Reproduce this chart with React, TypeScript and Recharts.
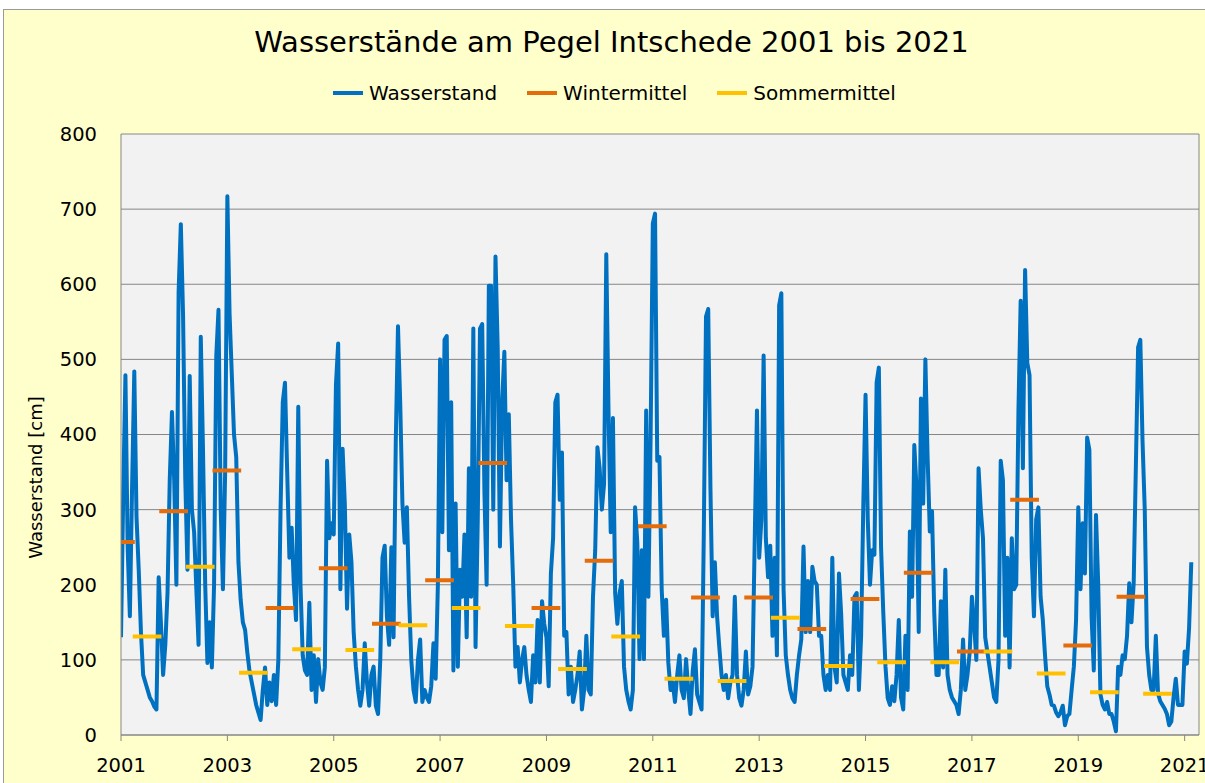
import React from 'react';
import { ComposedChart, Line, XAxis, YAxis, CartesianGrid, Legend, ReferenceLine } from 'recharts';

// Wasserstand [cm], semi-monthly readings (24 per year)
const y2001 = [130, 320, 479, 250, 158, 330, 484, 290, 220, 137, 80, 70, 60, 50, 45, 38, 34, 210, 150, 80, 120, 190, 340, 430];
const y2002 = [340, 200, 590, 680, 560, 341, 220, 478, 300, 270, 194, 120, 530, 380, 200, 96, 150, 90, 200, 505, 566, 300, 194, 350];
const y2003 = [717, 560, 480, 400, 370, 230, 180, 150, 140, 110, 85, 70, 55, 40, 30, 20, 60, 90, 40, 70, 45, 80, 40, 100];
const y2004 = [300, 443, 469, 350, 236, 276, 200, 153, 437, 200, 106, 86, 80, 176, 60, 106, 44, 101, 70, 60, 90, 365, 262, 282];
const y2005 = [267, 466, 521, 194, 381, 308, 168, 267, 230, 137, 91, 60, 39, 60, 122, 70, 39, 80, 91, 39, 28, 100, 236, 252];
const y2006 = [158, 120, 250, 130, 391, 544, 443, 308, 256, 303, 184, 100, 60, 44, 100, 127, 44, 60, 50, 44, 65, 122, 75, 200];
const y2007 = [500, 270, 526, 531, 246, 443, 86, 308, 91, 220, 184, 267, 130, 355, 184, 541, 117, 287, 541, 547, 324, 200, 598, 598];
const y2008 = [300, 637, 515, 251, 443, 510, 339, 427, 287, 200, 91, 117, 70, 100, 117, 80, 60, 44, 106, 70, 153, 70, 178, 148];
const y2009 = [130, 65, 215, 262, 443, 453, 313, 376, 132, 137, 54, 91, 44, 60, 80, 111, 34, 60, 132, 60, 54, 184, 246, 383];
const y2010 = [355, 300, 334, 640, 432, 270, 422, 189, 148, 189, 205, 91, 60, 45, 34, 60, 303, 256, 101, 246, 101, 432, 184, 396];
const y2011 = [681, 694, 365, 370, 194, 132, 180, 96, 60, 70, 44, 80, 106, 60, 49, 101, 60, 28, 85, 114, 54, 44, 34, 267];
const y2012 = [557, 567, 329, 158, 230, 158, 117, 80, 60, 80, 49, 70, 80, 184, 80, 49, 39, 60, 111, 54, 65, 91, 262, 432];
const y2013 = [236, 287, 505, 262, 210, 252, 132, 236, 106, 572, 588, 194, 106, 80, 60, 49, 44, 80, 106, 127, 251, 137, 205, 137];
const y2014 = [224, 205, 200, 132, 132, 80, 60, 80, 60, 236, 90, 70, 215, 161, 80, 70, 60, 106, 80, 184, 189, 60, 132, 308];
const y2015 = [453, 287, 200, 246, 240, 469, 489, 250, 163, 91, 49, 40, 65, 45, 80, 153, 50, 34, 132, 60, 271, 184, 386, 329];
const y2016 = [137, 448, 308, 500, 370, 271, 298, 163, 80, 80, 178, 90, 220, 80, 60, 50, 45, 40, 28, 60, 127, 60, 80, 110];
const y2017 = [184, 148, 100, 355, 300, 262, 130, 110, 90, 70, 50, 44, 100, 365, 339, 132, 236, 90, 262, 194, 200, 432, 578, 355];
const y2018 = [619, 495, 479, 236, 158, 287, 303, 184, 153, 106, 65, 54, 40, 39, 30, 25, 30, 39, 13, 25, 28, 60, 91, 153];
const y2019 = [303, 194, 282, 215, 396, 380, 158, 86, 293, 200, 54, 40, 34, 44, 28, 28, 18, 5, 91, 80, 106, 101, 132, 202];
const y2020 = [150, 202, 360, 516, 526, 391, 300, 117, 80, 60, 60, 132, 55, 45, 40, 35, 28, 13, 18, 50, 75, 40, 40, 40];
const y2021 = [111, 95, 142, 230];

const levelYears = [2001, 2002, 2003, 2004, 2005, 2006, 2007, 2008, 2009, 2010, 2011, 2012, 2013, 2014, 2015, 2016, 2017, 2018, 2019, 2020, 2021];
const levelValues = [y2001, y2002, y2003, y2004, y2005, y2006, y2007, y2008, y2009, y2010, y2011, y2012, y2013, y2014, y2015, y2016, y2017, y2018, y2019, y2020, y2021];
const SAMPLES_PER_YEAR = 24;

// Seasonal means [cm]
const seasonYears = [2001, 2002, 2003, 2004, 2005, 2006, 2007, 2008, 2009, 2010, 2011, 2012, 2013, 2014, 2015, 2016, 2017, 2018, 2019, 2020];
const winterMeans = [257, 298, 352, 169, 222, 148, 206, 362, 169, 232, 278, 183, 183, 141, 181, 216, 111, 313, 119, 184];
const summerMeans = [131, 224, 83, 114, 113, 146, 169, 145, 88, 131, 75, 72, 156, 92, 97, 97, 111, 82, 57, 55];

// Season periods relative to the calendar year
const WINTER_FROM = -0.28;
const WINTER_TO = 0.26;
const SUMMER_FROM = 0.22;
const SUMMER_TO = 0.76;

const seriesOrder = ['Wasserstand', 'Wintermittel', 'Sommermittel'];
const xTicks = [2001, 2003, 2005, 2007, 2009, 2011, 2013, 2015, 2017, 2019, 2021];
const yTicks = [0, 100, 200, 300, 400, 500, 600, 700, 800];
const X_MIN = 2001;
const X_MAX = 2021.27;

const levelData = levelYears.flatMap((yr, i) =>
  levelValues[i].map((v, k) => ({ t: yr + k / SAMPLES_PER_YEAR, v }))
);

function seasonSegments(years: number[], means: number[], from: number, to: number) {
  const out: { t: number; v: number | null }[] = [];
  years.forEach((y, i) => {
    out.push({ t: Math.max(X_MIN, y + from), v: means[i] });
    out.push({ t: y + to, v: means[i] });
    out.push({ t: y + to + 0.001, v: null });
  });
  return out;
}

const winterData = seasonSegments(seasonYears, winterMeans, WINTER_FROM, WINTER_TO);
const summerData = seasonSegments(seasonYears, summerMeans, SUMMER_FROM, SUMMER_TO);

const BLUE = '#0070C0';
const ORANGE = '#E46C0A';
const YELLOW = '#FFC000';
const GRID = '#868686';
const FONT = "'DejaVu Sans', Verdana, sans-serif";

const LegendContent = (props: any) => {
  const payload = [...(props.payload || [])].sort(
    (a: any, b: any) => seriesOrder.indexOf(a.value) - seriesOrder.indexOf(b.value)
  );
  return (
    <div style={{ display: 'flex', justifyContent: 'center', alignItems: 'center', gap: 30, fontFamily: FONT, fontSize: 20, color: '#000' }}>
      {payload.map((p: any) => (
        <div key={p.value} style={{ display: 'flex', alignItems: 'center' }}>
          <div style={{ width: 30, height: 4, background: p.color, marginRight: 6 }} />
          <span>{p.value}</span>
        </div>
      ))}
    </div>
  );
};

const YLabel = (props: any) => {
  const vb = props.viewBox || { x: 0, y: 0, width: 0, height: 0 };
  const cx = vb.x + 35;
  const cy = vb.y + vb.height / 2 + 43;
  return (
    <text x={cx} y={cy} transform={`rotate(-90 ${cx} ${cy})`} textAnchor="middle" dominantBaseline="central"
      style={{ fontFamily: FONT, fontSize: 18, fill: '#000' }}>
      Wasserstand [cm]
    </text>
  );
};

export default function App() {
  return (
    <div style={{ position: 'fixed', left: 0, top: 0, width: 1205, height: 783, background: '#fff', overflow: 'hidden' }}>
      <div style={{ position: 'absolute', left: 3, top: 9, width: 1220, height: 800, background: '#FFFFCC', border: '1px solid #9A9A9A' }} />
      <div style={{ position: 'absolute', left: 0, top: 28, width: 1223, textAlign: 'center', fontFamily: FONT, fontSize: 29, lineHeight: '29px', color: '#000' }}>
        Wasserstände am Pegel Intschede 2001 bis 2021
      </div>
      <div style={{ position: 'absolute', left: 0, top: 0 }}>
        <ComposedChart width={1205} height={783} margin={{ top: 134, right: 6, bottom: 0, left: 0 }}>
          <CartesianGrid vertical={false} stroke={GRID} fill="#F2F2F2" fillOpacity={1} />
          <XAxis
            dataKey="t"
            type="number"
            domain={[X_MIN, X_MAX]}
            ticks={xTicks}
            allowDataOverflow
            height={48}
            axisLine={{ stroke: GRID }}
            tickLine={{ stroke: GRID }}
            tickSize={6}
            tickMargin={17}
            tick={{ fill: '#000', fontSize: 19.5, fontFamily: FONT }}
          />
          <YAxis
            type="number"
            domain={[0, 800]}
            ticks={yTicks}
            width={121}
            axisLine={{ stroke: GRID }}
            tickLine={false}
            tickSize={0}
            tickMargin={24}
            tick={{ fill: '#000', fontSize: 19.5, fontFamily: FONT }}
            label={<YLabel />}
          />
          <ReferenceLine x={X_MAX} stroke={GRID} />
          <Legend
            verticalAlign="middle"
            layout="horizontal"
            itemSorter={null as any}
            content={<LegendContent />}
            wrapperStyle={{ top: 81, left: 0, width: 1229, height: 24 }}
          />
          <Line data={levelData} dataKey="v" name="Wasserstand" type="linear" stroke={BLUE} strokeWidth={4}
            dot={false} activeDot={false} isAnimationActive={false} strokeLinejoin="round" />
          <Line data={winterData} dataKey="v" name="Wintermittel" type="linear" stroke={ORANGE} strokeWidth={4}
            dot={false} activeDot={false} isAnimationActive={false} connectNulls={false} />
          <Line data={summerData} dataKey="v" name="Sommermittel" type="linear" stroke={YELLOW} strokeWidth={4}
            dot={false} activeDot={false} isAnimationActive={false} connectNulls={false} />
        </ComposedChart>
      </div>
    </div>
  );
}
